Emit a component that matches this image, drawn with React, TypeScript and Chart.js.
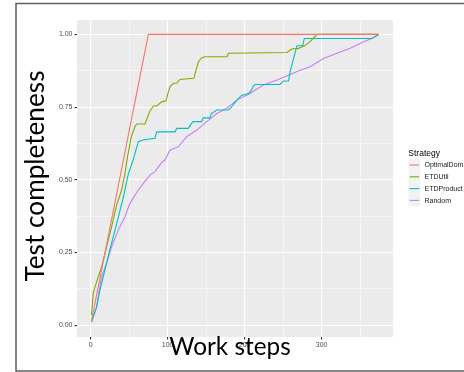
import React, { useEffect, useRef } from "react";
import { Chart, registerables } from "chart.js";

Chart.register(...registerables);

// ---- Data ----
const seriesNames = ["OptimalDomain", "ETDUtil", "ETDProduct", "Random"];
const seriesColors = ["#F8766D", "#7CAE00", "#00BFC4", "#C77CFF"];

const optimalX = [1, 75, 374];
const optimalY = [0.013, 1.0, 1.0];

const utilX = [1, 2, 3.4, 7.8, 14.3, 20.8, 27.3, 33.8, 40.3, 44.6, 48, 53, 58, 60, 70.6, 77, 81.4, 85.8, 92.3, 98, 101, 103, 107.4, 111.7, 116, 134, 140, 144.3, 148.6, 177, 179, 255, 261, 270, 278.7, 285, 294, 374];
const utilY = [0.035, 0.06, 0.11, 0.15, 0.2, 0.27, 0.339, 0.413, 0.465, 0.522, 0.58, 0.65, 0.685, 0.692, 0.692, 0.736, 0.754, 0.754, 0.768, 0.772, 0.803, 0.82, 0.832, 0.832, 0.845, 0.849, 0.906, 0.92, 0.923, 0.923, 0.935, 0.938, 0.95, 0.952, 0.963, 0.975, 1.0, 1.0];

const productX = [1, 5, 8, 12, 16.5, 25, 34, 42.5, 49, 55.5, 57.6, 62, 68.4, 83.6, 85.8, 109.6, 111.8, 127, 131, 133.4, 144, 146.4, 155, 157, 163.8, 179, 183, 190, 196, 205, 209, 211.4, 213.6, 246, 250.5, 257, 259, 263.5, 268, 275.6, 277.4, 365.4, 374];
const productY = [0.013, 0.04, 0.064, 0.12, 0.167, 0.26, 0.35, 0.44, 0.52, 0.57, 0.591, 0.631, 0.637, 0.643, 0.665, 0.665, 0.677, 0.677, 0.694, 0.7, 0.7, 0.713, 0.713, 0.728, 0.74, 0.74, 0.751, 0.774, 0.79, 0.797, 0.808, 0.823, 0.828, 0.828, 0.84, 0.84, 0.871, 0.917, 0.961, 0.961, 0.986, 0.986, 1.0];

const randomX = [1, 5, 7.8, 12, 14.3, 20.8, 27.3, 35.9, 44.6, 51.1, 61.9, 68.5, 77.1, 83.6, 92.3, 96.6, 103, 114, 124.8, 137.8, 150.8, 163.8, 176.8, 190, 207, 224.4, 242, 259, 272, 285, 302.5, 319.8, 337, 354.5, 365, 374];
const randomY = [0.009, 0.04, 0.064, 0.133, 0.167, 0.213, 0.27, 0.327, 0.373, 0.419, 0.465, 0.488, 0.516, 0.528, 0.56, 0.568, 0.602, 0.614, 0.648, 0.671, 0.7, 0.728, 0.746, 0.774, 0.797, 0.826, 0.843, 0.862, 0.877, 0.889, 0.917, 0.935, 0.952, 0.975, 0.986, 1.0];

const xMajorTicks = [0, 100, 200, 300];
const xMinorTicks = [50, 150, 250, 350];
const yMajorTicks = [0, 0.25, 0.5, 0.75, 1.0];
const yMinorTicks = [0.125, 0.375, 0.625, 0.875];

const legendTitle = "Strategy";
const xTitle = "Work steps";
const yTitle = "Test completeness";

function toPoints(xs: number[], ys: number[]) {
  return xs.map((x, i) => ({ x, y: ys[i] }));
}

const allX = [...optimalX, ...utilX, ...productX, ...randomX];
const allY = [...optimalY, ...utilY, ...productY, ...randomY];
const xLo = Math.min(...allX), xHi = Math.max(...allX);
const yLo = Math.min(...allY), yHi = Math.max(...allY);
const xPad = (xHi - xLo) * 0.05;
const yPad = (yHi - yLo) * 0.05;

const TITLE_FONT = "Lato, 'Open Sans', sans-serif";

function fitFont(ctx: CanvasRenderingContext2D, text: string, width: number) {
  ctx.font = `100px ${TITLE_FONT}`;
  const w = ctx.measureText(text).width;
  return (100 * width) / w;
}

const decorPlugin = {
  id: "decor",
  beforeDraw(chart: any) {
    const { ctx, chartArea: a, width, height } = chart;
    ctx.save();
    ctx.fillStyle = "#ffffff";
    ctx.fillRect(0, 0, width, height);
    ctx.fillStyle = "#EBEBEB";
    ctx.fillRect(a.left, a.top, a.right - a.left, a.bottom - a.top);
    ctx.restore();
  },
  afterDraw(chart: any) {
    const { ctx } = chart;
    ctx.save();
    // frame
    ctx.strokeStyle = "#5f5f5f";
    ctx.lineWidth = 1.5;
    ctx.strokeRect(16, 3.5, 500, 367.5);

    // legend
    ctx.fillStyle = "#000";
    ctx.font = "8.5px 'Liberation Sans', Arial, sans-serif";
    ctx.textBaseline = "middle";
    ctx.textAlign = "left";
    ctx.fillText(legendTitle, 408.3, 154);
    const keyY = [165, 176.8, 188.6, 200.4];
    seriesNames.forEach((name, i) => {
      const cy = keyY[i];
      ctx.fillStyle = "#F2F2F2";
      ctx.fillRect(408.5, cy - 5.9, 11.8, 11.8);
      ctx.strokeStyle = seriesColors[i];
      ctx.lineWidth = 1.1;
      ctx.beginPath();
      ctx.moveTo(409.6, cy);
      ctx.lineTo(419.2, cy);
      ctx.stroke();
      ctx.fillStyle = "#1a1a1a";
      ctx.font = "7px 'Liberation Sans', Arial, sans-serif";
      ctx.fillText(name, 424.5, cy + 0.3);
    });

    // axis titles
    ctx.fillStyle = "#000";
    ctx.textBaseline = "alphabetic";
    ctx.textAlign = "center";
    const fx = fitFont(ctx, xTitle, 121.5);
    ctx.font = `${fx}px ${TITLE_FONT}`;
    ctx.fillText(xTitle, 230, 355);

    const fy = fitFont(ctx, yTitle, 211);
    ctx.translate(44, 176);
    ctx.rotate(-Math.PI / 2);
    ctx.font = `${fy}px ${TITLE_FONT}`;
    ctx.fillText(yTitle, 0, 0);
    ctx.restore();
  },
};

export default function App() {
  const ref = useRef<HTMLCanvasElement | null>(null);
  useEffect(() => {
    if (!ref.current) return;
    const series = [
      [optimalX, optimalY],
      [utilX, utilY],
      [productX, productY],
      [randomX, randomY],
    ];
    const isMajorX = (v: number) => xMajorTicks.includes(v);
    const isMajorY = (v: number) => yMajorTicks.some((t) => Math.abs(t - v) < 1e-9);
    const chart = new Chart(ref.current, {
      type: "scatter",
      data: {
        datasets: series.map(([xs, ys], i) => ({
          label: seriesNames[i],
          data: toPoints(xs, ys),
          showLine: true,
          borderColor: seriesColors[i],
          backgroundColor: seriesColors[i],
          borderWidth: 1.1,
          pointRadius: 0,
          pointHoverRadius: 0,
          tension: 0,
        })),
      },
      options: {
        responsive: false,
        animation: false,
        events: [],
        layout: { padding: { left: 0, top: 20, right: 71, bottom: 0 } },
        plugins: { legend: { display: false }, tooltip: { enabled: false } },
        scales: {
          x: {
            type: "linear",
            min: xLo - xPad,
            max: xHi + xPad,
            afterBuildTicks: (s: any) => {
              s.ticks = [...xMajorTicks, ...xMinorTicks].sort((a, b) => a - b).map((v) => ({ value: v }));
            },
            afterFit: (s: any) => {
              s.height = 35;
            },
            border: { display: false },
            grid: {
              color: "#ffffff",
              lineWidth: (c: any) => (isMajorX(c.tick.value) ? 1.1 : 0.55),
              tickColor: (c: any) => (isMajorX(c.tick.value) ? "#333333" : "rgba(0,0,0,0)"),
              tickLength: 2.5,
              drawTicks: true,
            },
            ticks: {
              autoSkip: false,
              maxRotation: 0,
              padding: 1.5,
              color: "#4D4D4D",
              font: { family: "'Liberation Sans', Arial, sans-serif", size: 7 },
              callback: (v: any) => (isMajorX(Number(v)) ? String(v) : ""),
            },
          },
          y: {
            type: "linear",
            min: yLo - yPad,
            max: yHi + yPad,
            afterBuildTicks: (s: any) => {
              s.ticks = [...yMajorTicks, ...yMinorTicks].sort((a, b) => a - b).map((v) => ({ value: v }));
            },
            afterFit: (s: any) => {
              s.width = 77;
            },
            border: { display: false },
            grid: {
              color: "#ffffff",
              lineWidth: (c: any) => (isMajorY(c.tick.value) ? 1.1 : 0.55),
              tickColor: (c: any) => (isMajorY(c.tick.value) ? "#333333" : "rgba(0,0,0,0)"),
              tickLength: 2.5,
              drawTicks: true,
            },
            ticks: {
              autoSkip: false,
              padding: 2,
              color: "#4D4D4D",
              font: { family: "'Liberation Sans', Arial, sans-serif", size: 7 },
              callback: (v: any) => (isMajorY(Number(v)) ? Number(v).toFixed(2) : ""),
            },
          },
        },
      },
      plugins: [decorPlugin],
    } as any);
    return () => chart.destroy();
  }, []);
  return (
    <div style={{ position: "absolute", left: 0, top: 0, width: 464, height: 372 }}>
      <canvas ref={ref} width={464} height={372} style={{ display: "block", width: 464, height: 372 }} />
    </div>
  );
}
